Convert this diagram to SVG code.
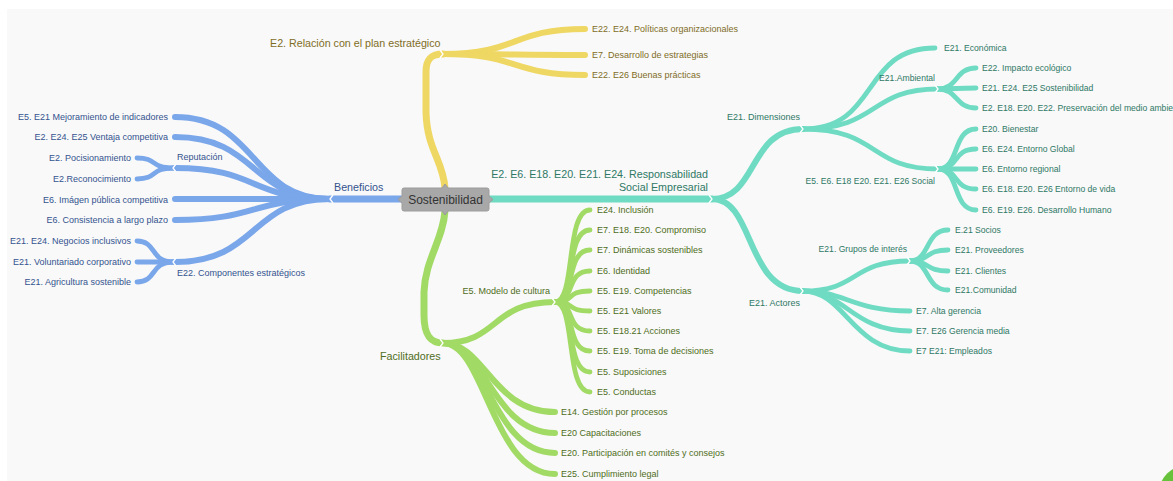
<svg xmlns="http://www.w3.org/2000/svg" width="1173" height="481" viewBox="0 0 1173 481">
  <style>
    .c { fill: none; stroke-linecap: round; stroke-linejoin: round; }
    .b { stroke: #7aa6ea; }
    .y { stroke: #efd763; }
    .t { stroke: #6fdbc3; }
    .g { stroke: #a2da66; }
    .w1 { stroke-width: 7; }
    .w2 { stroke-width: 6; }
    .w3 { stroke-width: 4.8; }
    .notch { fill: none; stroke: #ffffff; stroke-width: 1.3; stroke-linejoin: miter; }
    text { font-family: "Liberation Sans", Arial, Helvetica, sans-serif; }
    .l1 { font-size: 10.7px; }
    .l2 { font-size: 9px; }
    .lt { font-size: 8.6px; }
    .tb { fill: #34538f; }
    .ty { fill: #7f6d1f; }
    .tt { fill: #2e7865; }
    .tg { fill: #4f6d22; }
    .r { text-anchor: end; }
  </style>

  <!-- canvas -->
  <rect x="0" y="0" width="1173" height="481" fill="#ffffff"/>
  <rect x="7" y="9" width="1166" height="472" fill="#f9f9f9"/>

  <!-- branch connectors -->
  <g id="connectors">
    <!-- Beneficios (blue) -->
    <path class="c b w1" d="M402,199 L330,199"/>
    <path class="c b w2" d="M330,199 C250,199 258,117 175,117"/>
    <path class="c b w2" d="M330,199 C250,199 258,137 175,137"/>
    <path class="c b w2" d="M330,199 C250,199 258,168 175,168"/>
    <path class="c b w2" d="M330,199 C250,199 258,199 175,199"/>
    <path class="c b w2" d="M330,199 C250,199 258,220 175,220"/>
    <path class="c b w2" d="M330,199 C250,199 258,262 175,262"/>
    <path class="c b w3" d="M173,168 C150,168 158,158 137,158"/>
    <path class="c b w3" d="M173,168 C150,168 158,179 137,179"/>
    <path class="c b w3" d="M173,262 C150,262 157,241 137,241"/>
    <path class="c b w3" d="M173,262 C150,262 157,262 137,262"/>
    <path class="c b w3" d="M173,262 C150,262 157,282 137,282"/>

    <!-- Relación con el plan estratégico (yellow) -->
    <path class="c y w1" d="M445,188 C443,160 427,150 426,112 L426,72 C426,58 432,54 443,54"/>
    <path class="c y w2" d="M443,54 C520,54 510,29 585,29"/>
    <path class="c y w2" d="M443,54 C520,54 510,55 585,55"/>
    <path class="c y w2" d="M443,54 C520,54 510,75 585,75"/>

    <!-- Responsabilidad Social Empresarial (teal) -->
    <path class="c t w1" d="M489,199 L712,199"/>
    <path class="c t w2" d="M712,199 C758,199 748,129 803,129"/>
    <path class="c t w2" d="M712,199 C755,199 745,291 803,291"/>
    <path class="c t w3" d="M803,129 C880,129 860,48 935,48"/>
    <path class="c t w3" d="M803,129 C880,129 868,89 938,89"/>
    <path class="c t w3" d="M803,129 C880,129 868,169 938,169"/>
    <path class="c t w3" d="M938,89 C958,89 955,68 976,68"/>
    <path class="c t w3" d="M938,89 C958,89 955,88 976,88"/>
    <path class="c t w3" d="M938,89 C958,89 955,108 976,108"/>
    <path class="c t w3" d="M938,169 C960,169 952,129 976,129"/>
    <path class="c t w3" d="M938,169 C960,169 952,149 976,149"/>
    <path class="c t w3" d="M938,169 C960,169 952,169 976,169"/>
    <path class="c t w3" d="M938,169 C960,169 952,189 976,189"/>
    <path class="c t w3" d="M938,169 C960,169 952,210 976,210"/>
    <path class="c t w3" d="M803,291 C860,291 850,261 910,261"/>
    <path class="c t w3" d="M803,291 C845,291 852,311 910,311"/>
    <path class="c t w3" d="M803,291 C845,291 852,331 910,331"/>
    <path class="c t w3" d="M803,291 C845,291 852,351 910,351"/>
    <path class="c t w3" d="M910,261 C930,261 925,230 948,230"/>
    <path class="c t w3" d="M910,261 C930,261 925,250 948,250"/>
    <path class="c t w3" d="M910,261 C930,261 925,271 948,271"/>
    <path class="c t w3" d="M910,261 C930,261 925,290 948,290"/>

    <!-- Facilitadores (green) -->
    <path class="c g w1" d="M445,211 C443,240 425,260 424,292 L424,315 C424,335 430,343 443,343"/>
    <path class="c g w2" d="M443,343 C500,343 490,302 555,302"/>
    <path class="c g w2" d="M443,343 C485,343 492,412 555,412"/>
    <path class="c g w2" d="M443,343 C485,343 492,433 555,433"/>
    <path class="c g w2" d="M443,343 C485,343 492,453 555,453"/>
    <path class="c g w2" d="M443,343 C485,343 492,474 555,474"/>
    <path class="c g w3" d="M555,302 C576,302 565,210 590,210"/>
    <path class="c g w3" d="M555,302 C576,302 565,230 590,230"/>
    <path class="c g w3" d="M555,302 C576,302 565,250 590,250"/>
    <path class="c g w3" d="M555,302 C576,302 565,271 590,271"/>
    <path class="c g w3" d="M555,302 C576,302 565,291 590,291"/>
    <path class="c g w3" d="M555,302 C576,302 565,311 590,311"/>
    <path class="c g w3" d="M555,302 C576,302 565,331 590,331"/>
    <path class="c g w3" d="M555,302 C576,302 565,351 590,351"/>
    <path class="c g w3" d="M555,302 C576,302 565,372 590,372"/>
    <path class="c g w3" d="M555,302 C576,302 565,392 590,392"/>

    <!-- junction notches -->
    <polyline class="notch" points="333,195 330,199 333,203"/>
    <polyline class="notch" points="176,164 173,168 176,172"/>
    <polyline class="notch" points="176,258 173,262 176,266"/>
    <polyline class="notch" points="440,50 443,54 440,58"/>
    <polyline class="notch" points="709,195 712,199 709,203"/>
    <polyline class="notch" points="800,125 803,129 800,133"/>
    <polyline class="notch" points="800,287 803,291 800,295"/>
    <polyline class="notch" points="935,85 938,89 935,93"/>
    <polyline class="notch" points="935,165 938,169 935,173"/>
    <polyline class="notch" points="907,257 910,261 907,265"/>
    <polyline class="notch" points="440,339 443,343 440,347"/>
    <polyline class="notch" points="552,298 555,302 552,306"/>
  </g>

  <!-- central topic -->
  <g id="sostenibilidad">
    <path d="M404,188 H442 L445,184 L448,188 H487 Q489,188 489,190 V196 L493,199.5 L489,203 V209 Q489,211 487,211 H448 L445,215 L442,211 H404 Q402,211 402,209 V203 L398,199.5 L402,196 V190 Q402,188 404,188 Z" fill="#a8a8a8" stroke="#9c9c9c" stroke-width="1"/>
    <text x="445.5" y="204" font-size="12" fill="#333333" text-anchor="middle">Sostenibilidad</text>
  </g>

  <!-- Beneficios -->
  <g id="beneficios">
    <text class="l1 tb" x="334" y="191">Beneficios</text>
  </g>
  <g id="mejoramiento"><text class="l2 tb r" x="168" y="120">E5. E21 Mejoramiento de indicadores</text></g>
  <g id="ventaja"><text class="l2 tb r" x="168" y="140">E2. E24. E25 Ventaja competitiva</text></g>
  <g id="reputacion"><text class="l2 tb" x="177" y="160">Reputación</text></g>
  <g id="posicionamiento"><text class="l2 tb r" x="131" y="161">E2. Pocisionamiento</text></g>
  <g id="reconocimiento"><text class="l2 tb r" x="131" y="182">E2.Reconocimiento</text></g>
  <g id="imagen"><text class="l2 tb r" x="168" y="203">E6. Imágen pública competitiva</text></g>
  <g id="consistencia"><text class="l2 tb r" x="168" y="223">E6. Consistencia a largo plazo</text></g>
  <g id="componentes"><text class="l2 tb" x="177" y="276">E22. Componentes estratégicos</text></g>
  <g id="negocios"><text class="l2 tb r" x="131" y="244">E21. E24. Negocios inclusivos</text></g>
  <g id="voluntariado"><text class="l2 tb r" x="131" y="265">E21. Voluntariado corporativo</text></g>
  <g id="agricultura"><text class="l2 tb r" x="131" y="285">E21. Agricultura sostenible</text></g>

  <!-- Relación con el plan estratégico -->
  <g id="relacion"><text class="l1 ty" x="270" y="47">E2. Relación con el plan estratégico</text></g>
  <g id="politicas"><text class="l2 ty" x="592" y="32">E22. E24. Políticas organizacionales</text></g>
  <g id="desarrollo-estrategias"><text class="l2 ty" x="592" y="58">E7. Desarrollo de estrategias</text></g>
  <g id="buenas-practicas"><text class="l2 ty" x="592" y="78">E22. E26 Buenas prácticas</text></g>

  <!-- Responsabilidad Social Empresarial -->
  <g id="rse">
    <text class="l1 tt r" x="708" y="178">E2. E6. E18. E20. E21. E24. Responsabilidad</text>
    <text class="l1 tt r" x="708" y="191">Social Empresarial</text>
  </g>
  <g id="dimensiones"><text class="l2 tt r" x="800" y="120">E21. Dimensiones</text></g>
  <g id="economica"><text class="lt tt" x="944" y="51">E21. Económica</text></g>
  <g id="ambiental"><text class="lt tt r" x="935" y="81">E21.Ambiental</text></g>
  <g id="impacto"><text class="lt tt" x="982" y="71">E22. Impacto ecológico</text></g>
  <g id="sostenibilidad-amb"><text class="lt tt" x="982" y="91">E21. E24. E25 Sostenibilidad</text></g>
  <g id="preservacion"><text class="lt tt" x="982" y="111">E2. E18. E20. E22. Preservación del medio ambiente</text></g>
  <g id="social"><text class="lt tt r" x="935" y="184">E5. E6. E18 E20. E21. E26 Social</text></g>
  <g id="bienestar"><text class="lt tt" x="982" y="132">E20. Bienestar</text></g>
  <g id="entorno-global"><text class="lt tt" x="982" y="152">E6. E24. Entorno Global</text></g>
  <g id="entorno-regional"><text class="lt tt" x="982" y="172">E6. Entorno regional</text></g>
  <g id="entorno-vida"><text class="lt tt" x="982" y="192">E6. E18. E20. E26 Entorno de vida</text></g>
  <g id="desarrollo-humano"><text class="lt tt" x="982" y="213">E6. E19. E26. Desarrollo Humano</text></g>
  <g id="actores"><text class="l2 tt r" x="800" y="306">E21. Actores</text></g>
  <g id="grupos"><text class="lt tt r" x="907" y="252">E21. Grupos de interés</text></g>
  <g id="socios"><text class="lt tt" x="955" y="233">E.21 Socios</text></g>
  <g id="proveedores"><text class="lt tt" x="955" y="253">E21. Proveedores</text></g>
  <g id="clientes"><text class="lt tt" x="955" y="274">E21. Clientes</text></g>
  <g id="comunidad"><text class="lt tt" x="955" y="293">E21.Comunidad</text></g>
  <g id="alta-gerencia"><text class="lt tt" x="916" y="314">E7. Alta gerencia</text></g>
  <g id="gerencia-media"><text class="lt tt" x="916" y="334">E7. E26 Gerencia media</text></g>
  <g id="empleados"><text class="lt tt" x="916" y="354">E7 E21: Empleados</text></g>

  <!-- Facilitadores -->
  <g id="facilitadores"><text class="l1 tg" x="380" y="360">Facilitadores</text></g>
  <g id="modelo-cultura"><text class="l2 tg r" x="550" y="294">E5. Modelo de cultura</text></g>
  <g id="inclusion"><text class="l2 tg" x="597" y="213">E24. Inclusión</text></g>
  <g id="compromiso"><text class="l2 tg" x="597" y="233">E7. E18. E20. Compromiso</text></g>
  <g id="dinamicas"><text class="l2 tg" x="597" y="253">E7. Dinámicas sostenibles</text></g>
  <g id="identidad"><text class="l2 tg" x="597" y="274">E6. Identidad</text></g>
  <g id="competencias"><text class="l2 tg" x="597" y="294">E5. E19. Competencias</text></g>
  <g id="valores"><text class="l2 tg" x="597" y="314">E5. E21 Valores</text></g>
  <g id="acciones"><text class="l2 tg" x="597" y="334">E5. E18.21 Acciones</text></g>
  <g id="toma-decisiones"><text class="l2 tg" x="597" y="354">E5. E19. Toma de decisiones</text></g>
  <g id="suposiciones"><text class="l2 tg" x="597" y="375">E5. Suposiciones</text></g>
  <g id="conductas"><text class="l2 tg" x="597" y="395">E5. Conductas</text></g>
  <g id="gestion"><text class="l2 tg" x="561" y="415">E14. Gestión por procesos</text></g>
  <g id="capacitaciones"><text class="l2 tg" x="561" y="436">E20 Capacitaciones</text></g>
  <g id="participacion"><text class="l2 tg" x="561" y="456">E20. Participación en comités y consejos</text></g>
  <g id="cumplimiento"><text class="l2 tg" x="561" y="477">E25. Cumplimiento legal</text></g>

  <!-- corner button -->
  <circle cx="1190" cy="496" r="32" fill="#66c23a"/>
</svg>
